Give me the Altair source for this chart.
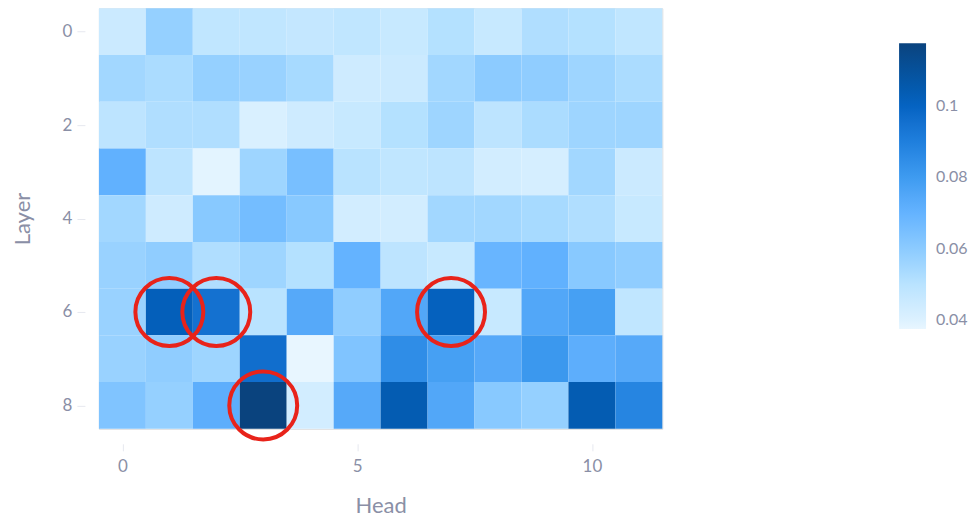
import altair as alt
import pandas as pd

heads = list(range(12))
layers = list(range(9))

layer_0 = [0.045, 0.058, 0.048, 0.048, 0.047, 0.048, 0.046, 0.051, 0.046, 0.052, 0.051, 0.048]
layer_1 = [0.055, 0.053, 0.058, 0.057, 0.054, 0.044, 0.045, 0.055, 0.060, 0.059, 0.056, 0.053]
layer_2 = [0.049, 0.052, 0.052, 0.041, 0.044, 0.046, 0.051, 0.056, 0.049, 0.053, 0.056, 0.056]
layer_3 = [0.071, 0.049, 0.0385, 0.056, 0.065, 0.050, 0.048, 0.049, 0.043, 0.042, 0.055, 0.045]
layer_4 = [0.055, 0.044, 0.061, 0.066, 0.061, 0.043, 0.043, 0.055, 0.055, 0.054, 0.052, 0.046]
layer_5 = [0.057, 0.059, 0.052, 0.056, 0.051, 0.070, 0.049, 0.046, 0.069, 0.071, 0.061, 0.059]
layer_6 = [0.057, 0.102, 0.095, 0.050, 0.074, 0.059, 0.075, 0.101, 0.046, 0.075, 0.078, 0.048]
layer_7 = [0.057, 0.059, 0.056, 0.096, 0.0375, 0.063, 0.085, 0.078, 0.074, 0.081, 0.072, 0.074]
layer_8 = [0.063, 0.058, 0.072, 0.1176, 0.043, 0.074, 0.104, 0.075, 0.061, 0.058, 0.104, 0.088]

highlight_heads = [1, 2, 7, 3]
highlight_layers = [6, 6, 6, 8]

color_stops = [0.0375, 0.04, 0.05, 0.06, 0.07, 0.08, 0.09, 0.1, 0.1176]
color_range = ["#e8f6ff", "#dcf1ff", "#b9e3ff", "#8ccbff", "#64b3ff",
               "#3e9bf0", "#1f7fdd", "#0563c2", "#0a437e"]
legend_ticks = [0.04, 0.06, 0.08, 0.1]

rows = [layer_0, layer_1, layer_2, layer_3, layer_4, layer_5, layer_6, layer_7, layer_8]
records = []
for li, row in zip(layers, rows):
    for hi, v in zip(heads, row):
        records.append({"head": hi, "layer": li, "value": v})
df = pd.DataFrame(records)
hl = pd.DataFrame({"head": highlight_heads, "layer": highlight_layers})

label_color = "#8a8fa6"
font = "Lato"

x_scale = alt.Scale(domain=[-0.5, 11.5], nice=False, zero=False)
y_scale = alt.Scale(domain=[-0.5, 8.5], nice=False, zero=False, reverse=True)

x_axis = alt.Axis(title="Head", values=[0, 5, 10], grid=False, domain=False,
                  tickColor="#e6e8ef", tickSize=7, offset=15, labelPadding=8,
                  labelFontSize=17, titleFontSize=22, titlePadding=21,
                  labelColor=label_color, titleColor=label_color,
                  labelFont=font, titleFont=font, titleFontWeight="normal")
y_axis = alt.Axis(title="Layer", values=[0, 2, 4, 6, 8], grid=False, domain=False,
                  tickColor="#e6e8ef", tickSize=8, offset=14, labelPadding=5,
                  labelFontSize=17, titleFontSize=22, titlePadding=28,
                  labelColor=label_color, titleColor=label_color,
                  labelFont=font, titleFont=font, titleFontWeight="normal")

heat = alt.Chart(df).transform_calculate(
    x0="datum.head - 0.5", x1="datum.head + 0.5",
    y0="datum.layer - 0.5", y1="datum.layer + 0.5",
).mark_rect().encode(
    x=alt.X("x0:Q", scale=x_scale, axis=x_axis),
    x2="x1:Q",
    y=alt.Y("y0:Q", scale=y_scale, axis=y_axis),
    y2="y1:Q",
    color=alt.Color("value:Q",
                    scale=alt.Scale(domain=color_stops, range=color_range),
                    legend=alt.Legend(title=None, orient="none", legendX=801, legendY=35,
                                      gradientLength=286, gradientThickness=27,
                                      values=legend_ticks, format=".2~f",
                                      labelFontSize=16, labelColor=label_color,
                                      labelFont=font, labelOffset=10,
                                      gradientStrokeWidth=0)),
)

circles = alt.Chart(hl).mark_point(shape="circle", filled=False, size=4624,
                                   strokeWidth=4, color="#e8231a", opacity=1).encode(
    x=alt.X("head:Q", scale=x_scale),
    y=alt.Y("layer:Q", scale=y_scale),
)

chart = alt.layer(heat, circles).properties(
    width=564, height=421,
    autosize=alt.AutoSizeParams(type="pad"),
    padding={"left": 3, "top": 0, "right": 0, "bottom": 0},
).configure_view(stroke=None).configure(font=font)

chart.save("out.html", embed_options={"renderer": "svg", "actions": False})
